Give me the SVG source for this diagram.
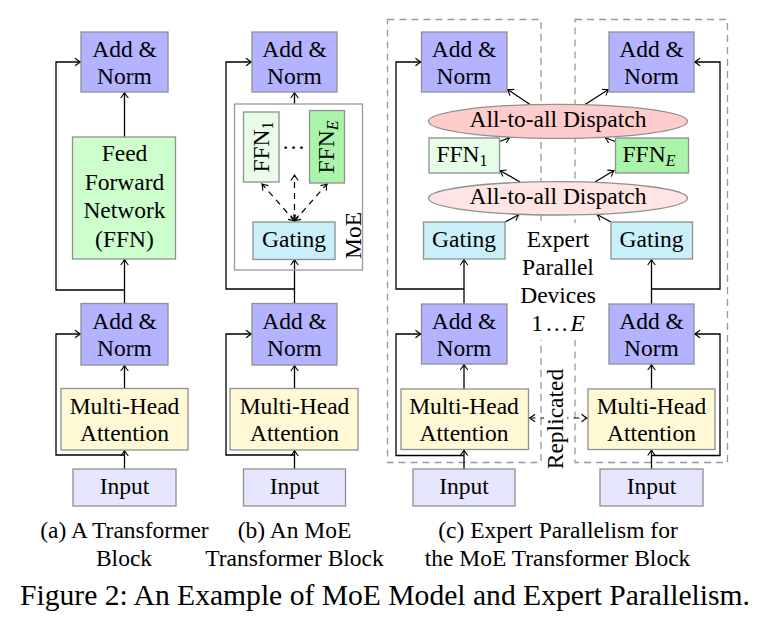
<svg xmlns="http://www.w3.org/2000/svg" width="782" height="628" viewBox="0 0 782 628">
<defs>
<marker id="ar" markerUnits="userSpaceOnUse" markerWidth="12" markerHeight="12" viewBox="-7 -6 8 12" refX="0" refY="0" orient="auto-start-reverse">
<path d="M -5.5 -3.8 Q -2 -1 0 0 Q -2 1 -5.5 3.8" fill="none" stroke="#000" stroke-width="1.1"/>
</marker>
</defs>
<style>
text{font-family:"Liberation Serif","Times New Roman",serif;font-size:23.5px;fill:#000;text-anchor:middle}
.box{stroke:#909090;stroke-width:1.3}
.an{fill:#b3b3ff}
.inp{fill:#e6e6ff}
.mha{fill:#fff9d6}
.ffn{fill:#ccffcc}
.ffn1{fill:#e8fde8}
.ffne{fill:#aaf5aa}
.gate{fill:#c9eff9}
.d1{fill:#ffcccc}
.d2{fill:#ffe4e4}
.c{fill:none;stroke:#000;stroke-width:1.3}
.ca{marker-end:url(#ar)}
.dash{fill:none;stroke:#000;stroke-width:1.2;stroke-dasharray:6 5}
.dbox{fill:none;stroke:#999;stroke-width:1.3;stroke-dasharray:7 5}
.cap{font-size:23.5px}
</style>
<rect width="782" height="628" fill="#fff"/>

<!-- dashed device boxes -->
<g id="devices">
<rect class="dbox" x="387.5" y="19.5" width="153.5" height="443"/>
<rect class="dbox" x="575" y="19.5" width="152.5" height="443"/>
</g>

<!-- connectors -->
<g id="connectors">
<!-- (a) -->
<line class="c ca" x1="124.5" y1="469" x2="124.5" y2="450.5"/>
<polyline class="c ca" points="124.5,455 56,455 56,334 80.5,334"/>
<line class="c ca" x1="124.5" y1="388" x2="124.5" y2="365.5"/>
<line class="c ca" x1="124.5" y1="303" x2="124.5" y2="259.5"/>
<polyline class="c ca" points="124.5,290 56,290 56,62 80.5,62"/>
<line class="c ca" x1="124.5" y1="137" x2="124.5" y2="92.5"/>
<!-- (b) -->
<line class="c ca" x1="294.5" y1="469" x2="294.5" y2="450.5"/>
<polyline class="c ca" points="294.5,455 226,455 226,334 251.5,334"/>
<line class="c ca" x1="294.5" y1="388" x2="294.5" y2="365.5"/>
<line class="c ca" x1="294.5" y1="303" x2="294.5" y2="259.5"/>
<polyline class="c ca" points="294.5,289 226,289 226,62 251.5,62"/>
<line class="c ca" x1="294.5" y1="104" x2="294.5" y2="92.5"/>
<line class="dash" marker-start="url(#ar)" marker-end="url(#ar)" x1="294.5" y1="221" x2="262" y2="184"/>
<line class="dash" marker-start="url(#ar)" marker-end="url(#ar)" x1="294.5" y1="221" x2="294.5" y2="175"/>
<line class="dash" marker-start="url(#ar)" marker-end="url(#ar)" x1="294.5" y1="221" x2="327" y2="184"/>
<!-- (c) left -->
<line class="c ca" x1="464" y1="469" x2="464" y2="450"/>
<polyline class="c ca" points="464,455.5 396,455.5 396,334 421,334"/>
<line class="c ca" x1="464" y1="389" x2="464" y2="364.5"/>
<line class="c ca" x1="464" y1="304" x2="464" y2="259.5"/>
<polyline class="c ca" points="464,289 396,289 396,62 421,62"/>
<line class="c ca" x1="505" y1="222" x2="519" y2="214.5"/>
<line class="c ca" x1="520" y1="182" x2="500" y2="170.5"/>
<line class="c ca" x1="499.5" y1="141.5" x2="510" y2="137.5"/>
<line class="c ca" x1="530" y1="104.5" x2="507.5" y2="89.5"/>
<!-- (c) right -->
<line class="c ca" x1="651.5" y1="469" x2="651.5" y2="450"/>
<polyline class="c ca" points="651.5,455.5 720,455.5 720,334 694.5,334"/>
<line class="c ca" x1="651.5" y1="389" x2="651.5" y2="364.5"/>
<line class="c ca" x1="651.5" y1="304" x2="651.5" y2="259.5"/>
<polyline class="c ca" points="651.5,289 720,289 720,62 694.5,62"/>
<line class="c ca" x1="611" y1="222" x2="597" y2="214.5"/>
<line class="c ca" x1="595" y1="182" x2="614" y2="170.5"/>
<line class="c ca" x1="615" y1="141.5" x2="605" y2="137.5"/>
<line class="c ca" x1="585" y1="104.5" x2="608.5" y2="89.5"/>
<!-- replicated -->
<line class="dash" marker-start="url(#ar)" marker-end="url(#ar)" x1="529.5" y1="418" x2="587" y2="418"/>
</g>

<!-- (a) -->
<g id="a-input"><rect class="box inp" x="73" y="469" width="103" height="37"/><text x="124.5" y="493.5">Input</text></g>
<g id="a-mha"><rect class="box mha" x="61" y="388.5" width="127" height="61.5"/><text x="124.5" y="413.5">Multi-Head</text><text x="124.5" y="441">Attention</text></g>
<g id="a-addnorm1"><rect class="box an" x="81" y="303.5" width="87" height="61.5"/><text x="124.5" y="328.5">Add &amp;</text><text x="124.5" y="356">Norm</text></g>
<g id="a-ffn"><rect class="box ffn" x="72.5" y="137" width="103" height="122"/><text x="124.5" y="161">Feed</text><text x="124.5" y="189.5">Forward</text><text x="124.5" y="218">Network</text><text x="124.5" y="246.5">(FFN)</text></g>
<g id="a-addnorm2"><rect class="box an" x="81" y="32" width="87" height="60"/><text x="124.5" y="56.5">Add &amp;</text><text x="124.5" y="84">Norm</text></g>

<!-- (b) -->
<g id="b-input"><rect class="box inp" x="243.5" y="469" width="102" height="37"/><text x="294.5" y="493.5">Input</text></g>
<g id="b-mha"><rect class="box mha" x="230" y="388.5" width="128" height="61.5"/><text x="294.5" y="413.5">Multi-Head</text><text x="294.5" y="441">Attention</text></g>
<g id="b-addnorm1"><rect class="box an" x="252" y="303.5" width="85" height="61.5"/><text x="294.5" y="328.5">Add &amp;</text><text x="294.5" y="356">Norm</text></g>
<g id="b-moe"><rect fill="none" stroke="#999" stroke-width="1.3" x="234.5" y="104" width="128" height="166"/><text transform="translate(361,235.5) rotate(-90)">MoE</text></g>
<g id="b-ffn1"><rect class="box ffn1" x="243.5" y="112" width="35.5" height="70"/><text transform="translate(268.5,147) rotate(-90)">FFN<tspan font-size="16" dy="4">1</tspan></text></g>
<g id="b-dots"><text x="293.5" y="149">…</text></g>
<g id="b-ffne"><rect class="box ffne" x="309.5" y="110.5" width="35" height="72.5"/><text transform="translate(334,147) rotate(-90)">FFN<tspan font-size="16" dy="4" font-style="italic">E</tspan></text></g>
<g id="b-gating"><rect class="box gate" x="253" y="222" width="82" height="37.5"/><text x="294" y="247">Gating</text></g>
<g id="b-addnorm2"><rect class="box an" x="252" y="32" width="85" height="60"/><text x="294.5" y="56.5">Add &amp;</text><text x="294.5" y="84">Norm</text></g>

<!-- (c) labels -->
<g id="c-expert-label"><rect fill="#fff" x="520" y="223" width="76" height="117"/><text x="558" y="247">Expert</text><text x="558" y="275">Parallel</text><text x="558" y="303">Devices</text><text x="558" y="331">1<tspan dx="2">…</tspan><tspan dx="2" font-style="italic">E</tspan></text></g>
<g id="c-replicated"><rect fill="#fff" x="544" y="368" width="23" height="101"/><text transform="translate(562.5,419) rotate(-90)">Replicated</text></g>

<!-- (c) left device -->
<g id="c-input-1"><rect class="box inp" x="413" y="469" width="102" height="37"/><text x="464" y="493.5">Input</text></g>
<g id="c-mha-1"><rect class="box mha" x="401" y="389" width="127.5" height="60.5"/><text x="464" y="413.5">Multi-Head</text><text x="464" y="441">Attention</text></g>
<g id="c-addnorm1-1"><rect class="box an" x="421.5" y="304" width="85.5" height="60"/><text x="464" y="328.5">Add &amp;</text><text x="464" y="356">Norm</text></g>
<g id="c-gating-1"><rect class="box gate" x="423.5" y="222" width="81.5" height="37"/><text x="464" y="247">Gating</text></g>
<g id="c-ffn1"><rect class="box ffn1" x="429" y="138" width="70.5" height="35"/><text x="462" y="162">FFN<tspan font-size="16" dy="4">1</tspan></text></g>
<g id="c-addnorm2-1"><rect class="box an" x="421.5" y="32" width="85.5" height="60"/><text x="464" y="56.5">Add &amp;</text><text x="464" y="84">Norm</text></g>

<!-- (c) dispatch -->
<g id="c-dispatch-lower"><ellipse class="box d2" cx="558" cy="198.3" rx="129.5" ry="16.7"/><text x="558" y="203.5">All-to-all Dispatch</text></g>
<g id="c-dispatch-upper"><ellipse class="box d1" cx="558" cy="121.3" rx="129.5" ry="17"/><text x="558" y="127">All-to-all Dispatch</text></g>

<!-- (c) right device -->
<g id="c-input-2"><rect class="box inp" x="600" y="469" width="103" height="37"/><text x="651.5" y="493.5">Input</text></g>
<g id="c-mha-2"><rect class="box mha" x="588" y="389" width="127" height="60.5"/><text x="651.5" y="413.5">Multi-Head</text><text x="651.5" y="441">Attention</text></g>
<g id="c-addnorm1-2"><rect class="box an" x="609" y="304" width="85" height="60"/><text x="651.5" y="328.5">Add &amp;</text><text x="651.5" y="356">Norm</text></g>
<g id="c-gating-2"><rect class="box gate" x="611" y="222" width="81.5" height="37"/><text x="651.5" y="247">Gating</text></g>
<g id="c-ffne"><rect class="box ffne" x="615.5" y="138" width="73" height="35"/><text x="649" y="162">FFN<tspan font-size="16" dy="4" font-style="italic">E</tspan></text></g>
<g id="c-addnorm2-2"><rect class="box an" x="609" y="32" width="85" height="60"/><text x="651.5" y="56.5">Add &amp;</text><text x="651.5" y="84">Norm</text></g>

<!-- captions -->
<g id="captions">
<text class="cap" x="124.5" y="537.5">(a) A Transformer</text>
<text class="cap" x="124" y="565.5">Block</text>
<text class="cap" x="294.5" y="537.5">(b) An MoE</text>
<text class="cap" x="294.5" y="565.5">Transformer Block</text>
<text class="cap" x="558" y="537.5">(c) Expert Parallelism for</text>
<text class="cap" x="557.5" y="565.5">the MoE Transformer Block</text>
<text x="385" y="605" style="font-size:29.6px">Figure 2: An Example of MoE Model and Expert Parallelism.</text>
</g>
</svg>
